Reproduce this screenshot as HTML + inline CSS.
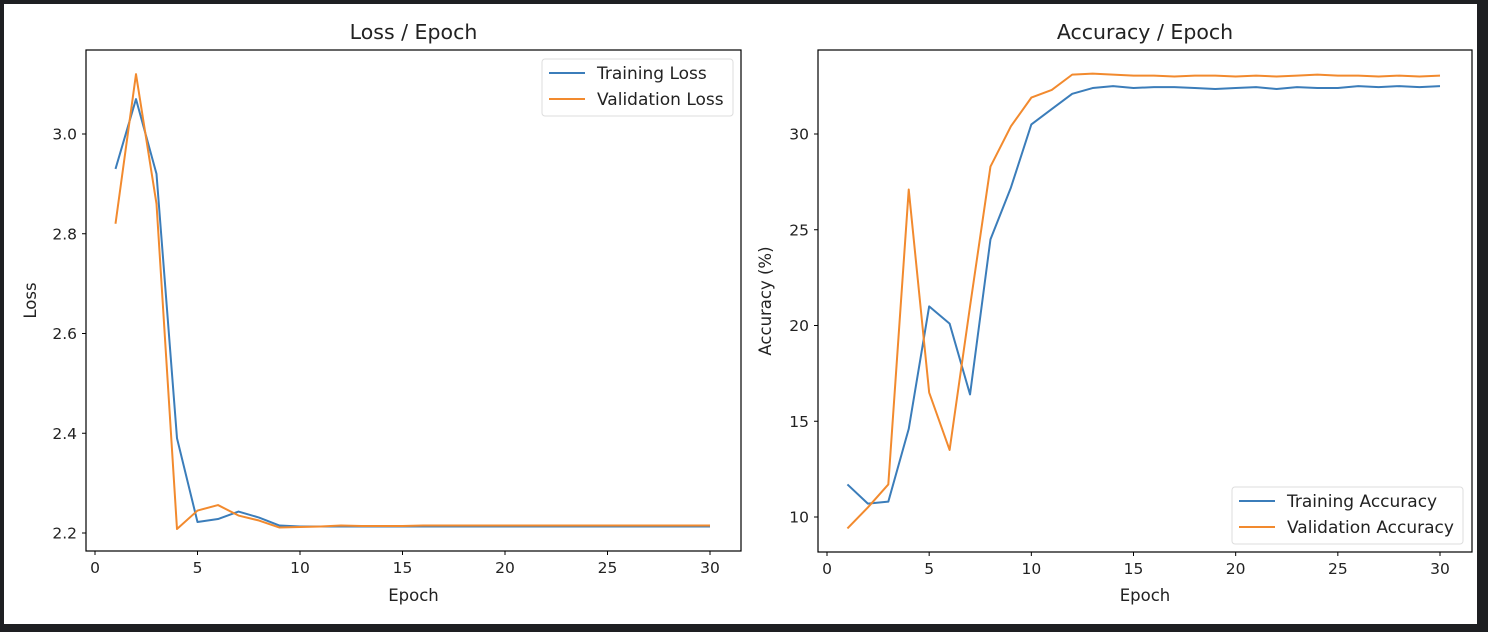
<!DOCTYPE html>
<html><head><meta charset="utf-8"><style>
body{margin:0;background:#1e1f22;width:1488px;height:632px;overflow:hidden}
svg{display:block;font-family:"DejaVu Sans","Liberation Sans",sans-serif}
</style></head><body>
<svg id="c" width="1488" height="632">
<rect x="4" y="4" width="1473" height="620" fill="#fff"/>
</svg>
<script>
const epochs=[1,2,3,4,5,6,7,8,9,10,11,12,13,14,15,16,17,18,19,20,21,22,23,24,25,26,27,28,29,30];
const trainLoss=[2.93,3.07,2.92,2.39,2.222,2.228,2.243,2.231,2.215,2.213,2.213,2.213,2.213,2.213,2.213,2.213,2.213,2.213,2.213,2.213,2.213,2.213,2.213,2.213,2.213,2.213,2.213,2.213,2.213,2.213];
const valLoss=[2.82,3.12,2.86,2.208,2.245,2.256,2.235,2.225,2.211,2.212,2.213,2.215,2.214,2.214,2.214,2.215,2.215,2.215,2.215,2.215,2.215,2.215,2.215,2.215,2.215,2.215,2.215,2.215,2.215,2.215];
const trainAcc=[11.7,10.7,10.8,14.6,21.0,20.1,16.4,24.5,27.2,30.5,31.3,32.1,32.4,32.5,32.4,32.45,32.45,32.4,32.35,32.4,32.45,32.35,32.45,32.4,32.4,32.5,32.45,32.5,32.45,32.5];
const valAcc=[9.4,10.5,11.7,27.1,16.5,13.5,21.0,28.3,30.4,31.9,32.3,33.1,33.15,33.1,33.05,33.05,33.0,33.05,33.05,33.0,33.05,33.0,33.05,33.1,33.05,33.05,33.0,33.05,33.0,33.05];
const xTicks=[0,5,10,15,20,25,30];
const lossTicks=[2.2,2.4,2.6,2.8,3.0];
const accTicks=[10,15,20,25,30];
const NS="http://www.w3.org/2000/svg",svg=document.getElementById('c');
function el(t,a,txt,p){const e=document.createElementNS(NS,t);for(const k in a)e.setAttribute(k,a[k]);if(txt!=null)e.textContent=txt;(p||svg).appendChild(e);return e;}
function panel(o){
 const g=el('g',{});
 
 
 const X=v=>o.x0+(v-o.xv0)*(o.x1-o.x0)/(o.xv1-o.xv0);
 const Y=v=>o.y0+(v-o.yv0)*(o.y1-o.y0)/(o.yv1-o.yv0);
 xTicks.forEach(t=>{el('line',{x1:X(t),x2:X(t),y1:o.B,y2:o.B+4,stroke:'#000','stroke-width':1},null,g);
  const tx=el('text',{x:X(t),y:o.B+22,'text-anchor':'middle','font-size':15.5,fill:'#222'},t,g);
  });
 o.yt.forEach(t=>{el('line',{x1:o.L-4,x2:o.L,y1:Y(t),y2:Y(t),stroke:'#000','stroke-width':1},null,g);
  const tx=el('text',{x:o.L-9,y:Y(t)+5.5,'text-anchor':'end','font-size':15.5,fill:'#222'},o.fmt(t),g);
  });
 [[o.tr,'#3b7dba'],[o.va,'#f28a2e']].forEach(([d,c],i)=>{
  const p=el('polyline',{points:epochs.map((e,j)=>X(e)+','+Y(d[j])).join(' '),fill:'none',stroke:c,'stroke-width':2,'stroke-linejoin':'round'},null,g);
  });
 el('rect',{x:o.L,y:o.T,width:o.R-o.L,height:o.B-o.T,fill:'none',stroke:'#000','stroke-width':1.2},null,g);
 const ti=el('text',{x:(o.L+o.R)/2,y:39,'text-anchor':'middle','font-size':20.5,fill:'#222'},o.title,g);
 
 const xl=el('text',{x:(o.L+o.R)/2,y:601,'text-anchor':'middle','font-size':16.5,fill:'#222'},'Epoch',g);
 
 const yl=el('text',{x:o.ylx,y:(o.T+o.B)/2,'text-anchor':'middle','font-size':16.5,fill:'#222',transform:`rotate(-90 ${o.ylx} ${(o.T+o.B)/2})`},o.ylabel,g);
 
 const lg=el('g',{},null,g);
 
 el('rect',{x:o.lx,y:o.ly,width:o.lw,height:57,rx:3,fill:'#fff',stroke:'#ddd'},null,lg);
 o.labels.forEach((s,i)=>{const yy=o.ly+14+i*26;
  el('line',{x1:o.lx+7,x2:o.lx+43,y1:yy,y2:yy,stroke:i?'#f28a2e':'#3b7dba','stroke-width':2},null,lg);
  const t=el('text',{x:o.lx+55,y:yy+6,'font-size':17,fill:'#222'},s,lg);
  });
}
panel({name:'loss-panel',L:86,R:741,T:50,B:551,x0:95,x1:710,xv0:0,xv1:30,y0:533,y1:134,yv0:2.2,yv1:3.0,yt:lossTicks,fmt:t=>t.toFixed(1),tr:trainLoss,va:valLoss,title:'Loss / Epoch',ylabel:'Loss',ylx:36,lx:542,ly:59,lw:191,labels:['Training Loss','Validation Loss']});
panel({name:'accuracy-panel',L:818,R:1472,T:50,B:552,x0:827,x1:1440,xv0:0,xv1:30,y0:517,y1:134,yv0:10,yv1:30,yt:accTicks,fmt:t=>String(t),tr:trainAcc,va:valAcc,title:'Accuracy / Epoch',ylabel:'Accuracy (%)',ylx:771,lx:1232,ly:487,lw:231,labels:['Training Accuracy','Validation Accuracy']});
</script>
</body></html>
